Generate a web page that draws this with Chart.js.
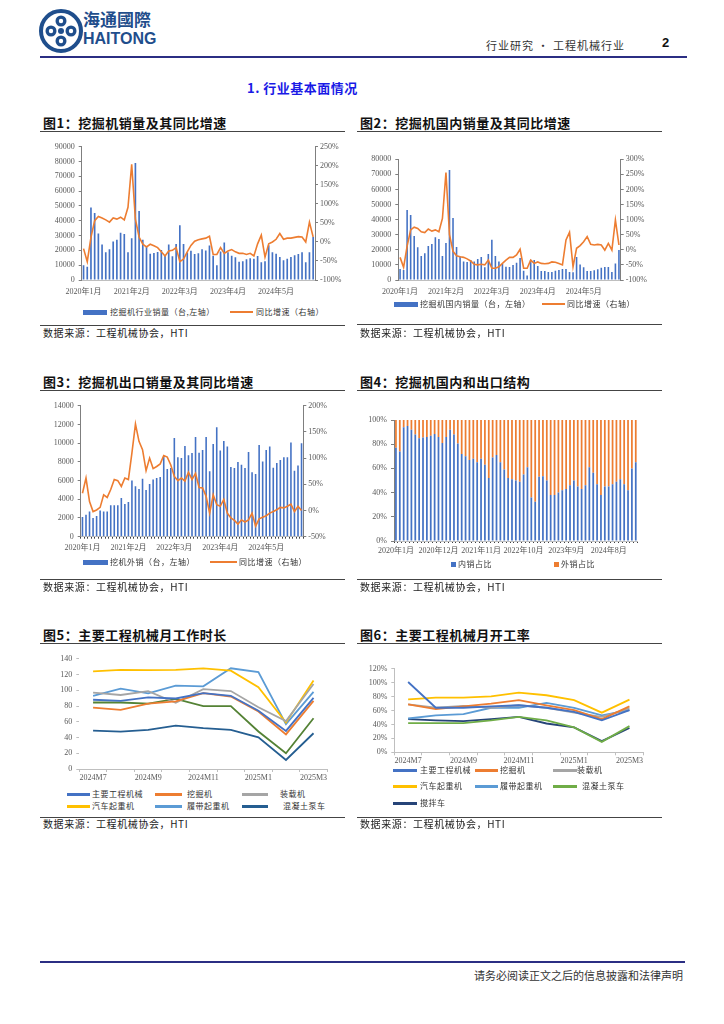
<!DOCTYPE html>
<html>
<head>
<meta charset="utf-8">
<script src="https://cdn.jsdelivr.net/npm/chart.js@4.4.1/dist/chart.umd.min.js"></script>
<style>
body { margin: 0; background: #fff; }
#page { position: relative; width: 724px; height: 1024px; overflow: hidden; background: #fff;
  font-family: "Noto Sans CJK SC", "Noto Sans", sans-serif; color: #222; }
.abs { position: absolute; white-space: nowrap; }
.ttl { font-size: 13px; font-weight: 700; line-height: 16px; color: #111; letter-spacing: 0.5px; }
.rule { position: absolute; height: 0; border-top: 1px solid #444; }
.src { font-size: 10px; line-height: 12px; color: #222; letter-spacing: 0.6px; }
.lg { font-size: 8px; line-height: 10px; color: #333; letter-spacing: 0.5px; }
.mk { position: absolute; }
canvas { position: absolute; }
</style>
</head>
<body>
<div id="page">
  <!-- header -->
  <svg class="abs" style="left:38px;top:8px" width="46" height="46" viewBox="0 0 46 46">
    <circle cx="23" cy="23" r="20" fill="none" stroke="#1F4E8C" stroke-width="4"/>
    <circle cx="23" cy="13" r="5.5" fill="#1F4E8C"/>
    <circle cx="23" cy="33" r="5.5" fill="#1F4E8C"/>
    <circle cx="13" cy="23" r="5.5" fill="#1F4E8C"/>
    <circle cx="33" cy="23" r="5.5" fill="#1F4E8C"/>
    <circle cx="23" cy="13" r="2.2" fill="#fff"/>
    <circle cx="23" cy="33" r="2.2" fill="#fff"/>
    <circle cx="13" cy="23" r="2.2" fill="#fff"/>
    <circle cx="33" cy="23" r="2.2" fill="#fff"/>
    <circle cx="23" cy="23" r="3" fill="#1F4E8C"/>
  </svg>
  <div class="abs" style="left:83px;top:8px;font-size:17px;font-weight:700;color:#1F4E8C;line-height:22px">海通國際</div>
  <div class="abs" style="left:83px;top:30px;font-size:16px;font-weight:700;color:#1F4E8C;line-height:18px;font-family:'Liberation Sans',sans-serif">HAITONG</div>
  <div class="abs" style="left:486px;top:38px;font-size:11px;color:#333;line-height:14px;letter-spacing:1px">行业研究 • 工程机械行业</div>
  <div class="abs" style="left:662px;top:35px;font-size:13px;font-weight:700;color:#111;line-height:16px;font-family:'Liberation Sans',sans-serif">2</div>
  <div class="abs" style="left:40px;top:56px;width:647px;height:2px;background:#2B2E83"></div>
  <div class="abs" style="left:247px;top:80px;font-size:13px;font-weight:700;color:#1a1ae6;line-height:16px;letter-spacing:0.5px">1. 行业基本面情况</div>

  <!-- figure 1 -->
  <div class="abs ttl" style="left:43px;top:115px">图1：挖掘机销量及其同比增速</div>
  <div class="rule" style="left:40px;top:131px;width:305px"></div>
  <canvas id="c1" width="305" height="165" style="left:40px;top:138px"></canvas>
  <div class="mk" style="left:83px;top:310px;width:24px;height:5px;background:#4472C4"></div>
  <div class="abs lg" style="left:110px;top:307px">挖掘机行业销量（台,左轴）</div>
  <div class="mk" style="left:230px;top:311px;width:23px;height:2px;background:#ED7D31"></div>
  <div class="abs lg" style="left:256px;top:307px">同比增速（右轴）</div>
  <div class="rule" style="left:40px;top:325px;width:305px"></div>
  <div class="abs src" style="left:43px;top:327px">数据来源：工程机械协会，HTI</div>

  <!-- figure 2 -->
  <div class="abs ttl" style="left:360px;top:115px">图2：挖掘机国内销量及其同比增速</div>
  <div class="rule" style="left:357px;top:131px;width:305px"></div>
  <canvas id="c2" width="307" height="153" style="left:355px;top:150px"></canvas>
  <div class="mk" style="left:394px;top:302px;width:24px;height:5px;background:#4472C4"></div>
  <div class="abs lg" style="left:420px;top:299px">挖掘机国内销量（台，左轴）</div>
  <div class="mk" style="left:542px;top:303px;width:23px;height:2px;background:#ED7D31"></div>
  <div class="abs lg" style="left:567px;top:299px">同比增速（右轴）</div>
  <div class="rule" style="left:357px;top:324px;width:305px"></div>
  <div class="abs src" style="left:360px;top:327px">数据来源：工程机械协会，HTI</div>

  <!-- figure 3 -->
  <div class="abs ttl" style="left:43px;top:374px">图3：挖掘机出口销量及其同比增速</div>
  <div class="rule" style="left:40px;top:390px;width:305px"></div>
  <canvas id="c3" width="305" height="162" style="left:40px;top:396px"></canvas>
  <div class="mk" style="left:83px;top:560px;width:25px;height:5px;background:#4472C4"></div>
  <div class="abs lg" style="left:110px;top:557px">挖机外销（台，左轴）</div>
  <div class="mk" style="left:210px;top:561px;width:27px;height:2px;background:#ED7D31"></div>
  <div class="abs lg" style="left:239px;top:557px">同比增速（右轴）</div>
  <div class="rule" style="left:40px;top:579px;width:305px"></div>
  <div class="abs src" style="left:43px;top:581px">数据来源：工程机械协会，HTI</div>

  <!-- figure 4 -->
  <div class="abs ttl" style="left:360px;top:374px">图4：挖掘机国内和出口结构</div>
  <div class="rule" style="left:357px;top:390px;width:305px"></div>
  <canvas id="c4" width="307" height="150" style="left:355px;top:410px"></canvas>
  <div class="mk" style="left:451px;top:562px;width:5px;height:5px;background:#4472C4"></div>
  <div class="abs lg" style="left:458px;top:559px">内销占比</div>
  <div class="mk" style="left:554px;top:562px;width:5px;height:5px;background:#ED7D31"></div>
  <div class="abs lg" style="left:561px;top:559px">外销占比</div>
  <div class="rule" style="left:357px;top:579px;width:305px"></div>
  <div class="abs src" style="left:360px;top:581px">数据来源：工程机械协会，HTI</div>

  <!-- figure 5 -->
  <div class="abs ttl" style="left:43px;top:627px">图5：主要工程机械月工作时长</div>
  <div class="rule" style="left:40px;top:643px;width:305px"></div>
  <canvas id="c5" width="295" height="135" style="left:40px;top:650px"></canvas>
  <div id="lg5"></div>
  <div class="rule" style="left:40px;top:817px;width:305px"></div>
  <div class="abs src" style="left:43px;top:818px">数据来源：工程机械协会，HTI</div>

  <!-- figure 6 -->
  <div class="abs ttl" style="left:360px;top:627px">图6：主要工程机械月开工率</div>
  <div class="rule" style="left:357px;top:643px;width:305px"></div>
  <canvas id="c6" width="300" height="108" style="left:355px;top:660px"></canvas>
  <div id="lg6"></div>
  <div class="rule" style="left:357px;top:817px;width:305px"></div>
  <div class="abs src" style="left:360px;top:818px">数据来源：工程机械协会，HTI</div>

  <!-- footer -->
  <div class="abs" style="left:40px;top:961px;width:645px;height:2px;background:#2B2E83"></div>
  <div class="abs" style="right:41px;top:968px;font-size:11px;color:#333;line-height:14px">请务必阅读正文之后的信息披露和法律声明</div>
</div>

<script>
// ---- data ----
const months = [];
for (let y = 2020; y <= 2025; y++) {
  for (let m = 1; m <= 12; m++) {
    if (y === 2025 && m > 3) break;
    months.push(y + '年' + m + '月');
  }
}
const ticksEvery13 = ['2020年1月', '2021年2月', '2022年3月', '2023年4月', '2024年5月'];
const ticksEvery11 = ['2020年1月', '2020年12月', '2021年11月', '2022年10月', '2023年9月', '2024年8月'];

// fig 1: total excavator sales (units) and yoy (%)
const salesTotal = [9900, 9000, 49000, 45300, 31500, 24000, 18700, 20700, 26000, 27200, 32000, 31100,
  18800, 28200, 79000, 46600, 27200, 22800, 17800, 18200, 18900, 20200, 16200, 24000,
  16000, 24300, 37000, 24300, 18500, 19800, 17500, 18000, 20700, 20000, 23300, 16400,
  10000, 19300, 25300, 18700, 16400, 15300, 12400, 12700, 14000, 14700, 14400, 16200,
  12000, 12700, 23500, 18700, 17800, 15600, 13300, 14400, 15600, 16700, 17500, 18800,
  12000, 18700, 29000];
const yoyTotal = [-17.5, -52, 12, 56, 67, 63, 58, 52, 63, 60, 65, 58,
  91, 204, 60, 13, -6, -13, -6, -10, -15, -26, -37, -24,
  -22, -15, -52, -45, -26, -9, 2, 6, 8, 10, 15, -33,
  -33, -15, -30, -24, -20, -26, -30, -30, -33, -30, -37, -5,
  18, -40, -5, 0, 7, 22, 7, 10, 10, 12, 14, 13,
  0, 52, 13];

// fig 2: domestic sales
const salesDomestic = [7300, 6600, 46400, 43100, 29200, 21700, 15900, 17700, 22500, 23900, 28300, 27200,
  15900, 24500, 72900, 41100, 21900, 15500, 12200, 11900, 13300, 12200, 13900, 15200,
  8400, 17200, 26700, 15900, 12200, 10600, 8800, 8600, 9900, 11500, 14600, 6200,
  3000, 13500, 13300, 9300, 6000, 6000, 5300, 5300, 6200, 6600, 7300, 7300,
  5300, 5100, 15200, 10200, 8400, 6000, 6000, 6400, 7100, 8200, 8600, 8600,
  5300, 11000, 19900];
const yoyDomestic = [-25, -58, 12, 66, 75, 71, 60, 57, 69, 62, 66, 60,
  104, 256, 50, -5, -20, -23, -25, -30, -37, -48, -50, -48,
  -50, -34, -61, -61, -56, -45, -34, -25, -25, -17, 2, -61,
  -61, -34, -45, -40, -45, -46, -45, -40, -41, -45, -50, 33,
  58, -56, 5, 14, 27, 44, 18, 16, 18, 16, -1, 21,
  -1, 99, 16];

// fig 3: export sales
const salesExport = [2100, 2350, 2700, 2000, 2200, 2800, 2700, 2700, 3350, 3350, 3350, 4130,
  3500, 3700, 6000, 5400, 5100, 6200, 5000, 5630, 6100, 6270, 6380, 8600,
  7230, 7340, 10550, 8500, 8400, 9700, 8700, 8940, 10650, 8980, 9260, 10650,
  7000, 9900, 11700, 9200, 10220, 9650, 7450, 7340, 7980, 7700, 7340, 9050,
  6900, 6700, 9800, 8050, 9260, 9650, 7370, 7870, 8200, 8500, 8500, 10080,
  7050, 7600, 10000];
const yoyExport = [33, 62, 17, -2, 1, 6, 30, 25, 40, 59, 57, 46,
  62, 59, 110, 165, 132, 116, 76, 100, 80, 84, 89, 105,
  102, 87, 65, 57, 62, 56, 73, 59, 71, 44, 43, 27,
  -5, 30, 11, 8, 21, -5, -14, -19, -26, -18, -22, -18,
  -5, -30, -16, -13, -10, -5, -2, 1.5, 6, 5, 8, 12,
  -2, 8, 0];

// fig 4: domestic / export share (%)
const shareDomestic = [77, 74, 94, 95, 92, 88, 85, 85.5, 86, 87, 88.5, 86,
  81, 86, 92, 88, 80.5, 72, 70, 67, 68, 65, 68, 63,
  52, 69, 71, 65, 59, 52, 51, 50, 49, 55, 61, 36,
  32.5, 53, 53.5, 50, 38, 38, 40, 42, 43, 46, 50, 45,
  43, 46, 61, 56.5, 47, 38, 45, 45, 47, 49, 51, 47,
  42, 60, 65];
const shareExport = [23, 26, 6, 5, 8, 12, 15, 14.5, 14, 13, 11.5, 14,
  19, 14, 8, 12, 19.5, 28, 30, 33, 32, 35, 32, 37,
  48, 31, 29, 35, 41, 48, 49, 50, 51, 45, 39, 64,
  67.5, 47, 46.5, 50, 62, 62, 60, 58, 57, 54, 50, 55,
  57, 54, 39, 43.5, 53, 62, 55, 55, 53, 51, 49, 53,
  58, 40, 35];

// fig 5 / fig 6: monthly working hours and utilisation
const recentMonths = ['2024M7', '2024M8', '2024M9', '2024M10', '2024M11', '2024M12', '2025M1', '2025M2', '2025M3'];
const recentTicks = ['2024M7', '2024M9', '2024M11', '2025M1', '2025M3'];

const hoursMain = [88, 86.6, 91, 89.6, 96.4, 93, 74, 48.4, 90.4];
const hoursExcavator = [78, 75, 83, 85.8, 96.4, 92, 73, 44, 86.6];
const hoursLoader = [97, 94, 99, 84, 101.5, 99, 78.5, 61, 108];
const hoursTruckCrane = [124, 126, 125.7, 126, 127.8, 125, 104, 59, 112.5];
const hoursCrawlerCrane = [93, 102, 96, 106, 105, 128, 123, 57, 98];
const hoursMixer = [84.5, 84.5, 83, 89, 80, 80, 47.6, 20, 64.5];
const hoursPump = [48.8, 47.6, 49.7, 55, 51.8, 49.7, 40.3, 11.5, 45.4];

const rateMain = [101, 64, 64, 66, 67.6, 64, 58, 46, 60.5];
const rateExcavator = [69, 62, 66, 70, 75, 67.6, 60.5, 47.6, 66];
const rateLoader = [69, 64, 66.7, 64, 67.6, 64, 57, 51, 63];
const rateTruckCrane = [76, 78.6, 78.6, 80.5, 85.7, 82, 75, 57, 75.7];
const rateCrawlerCrane = [48.6, 53, 55, 64, 64, 71, 64, 53, 60.5];
const ratePump = [42, 42, 42, 46, 51, 46, 35.7, 15, 37.6];
const rateMixer = [47.6, 46, 44.8, 47.6, 51, 41.4, 35.7, 16, 35];

// ---- helpers ----
const BLUE = '#4472C4', ORANGE = '#ED7D31';
const tickFont = { family: '"Liberation Serif", "Noto Sans CJK SC", serif', size: 8 };
const tickColor = '#595959';
Chart.defaults.animation = false;
Chart.defaults.plugins.legend.display = false;
Chart.defaults.plugins.tooltip.enabled = false;

function onlyLabels(list) {
  return function (v) {
    const l = this.getLabelForValue(v);
    return list.includes(l) ? l : '';
  };
}

function xAxis(list, height, pad, tickMarks) {
  return {
    type: 'category', offset: true,
    grid: { display: !!tickMarks, drawOnChartArea: false, drawTicks: !!tickMarks, tickLength: 2, offset: true, color: '#404040' },
    border: { display: true, color: '#bfbfbf' },
    ticks: { autoSkip: false, maxRotation: 0, minRotation: 0, font: tickFont, color: tickColor, padding: pad, callback: onlyLabels(list) },
    afterFit: s => { s.height = height; }
  };
}

function yAxis(pos, min, max, step, width, pct, stacked) {
  return {
    position: pos, min: min, max: max, stacked: !!stacked,
    grid: { drawOnChartArea: false, drawTicks: true, tickLength: 3, color: '#7f7f7f' },
    border: { display: true, color: '#7f7f7f' },
    ticks: { stepSize: step, font: tickFont, color: tickColor, padding: pos === 'left' ? 4 : 2,
      callback: v => pct ? v + '%' : v },
    afterFit: s => { s.width = width; }
  };
}

function barLine(id, labels, bars, line, cfg) {
  new Chart(document.getElementById(id), {
    type: 'bar',
    data: {
      labels: labels,
      datasets: [
        { type: 'line', data: line, yAxisID: 'y1', borderColor: ORANGE, borderWidth: 1.6,
          pointRadius: 0, tension: 0, order: 0 },
        { type: 'bar', data: bars, yAxisID: 'y', backgroundColor: BLUE,
          barPercentage: 0.9, categoryPercentage: 0.5, order: 1 }
      ]
    },
    options: {
      responsive: false,
      layout: { padding: { top: cfg.top, left: 0, right: 0, bottom: 0 } },
      scales: {
        x: xAxis(cfg.ticks, cfg.xh, cfg.xpad, cfg.marks),
        y: yAxis('left', 0, cfg.lmax, cfg.lstep, cfg.lw, false),
        y1: yAxis('right', cfg.rmin, cfg.rmax, 50, cfg.rw, true)
      }
    }
  });
}

barLine('c1', months, salesTotal, yoyTotal,
  { ticks: ticksEvery13, top: 7.7, xh: 23, xpad: 7, lmax: 90000, lstep: 10000, lw: 41.7, rmin: -100, rmax: 250, rw: 30 });
barLine('c2', months, salesDomestic, yoyDomestic,
  { ticks: ticksEvery13, top: 9.3, xh: 23, xpad: 7, lmax: 80000, lstep: 10000, lw: 43.3, rmin: -100, rmax: 300, rw: 41.3 });
barLine('c3', months, salesExport, yoyExport,
  { ticks: ticksEvery13, top: 9.7, xh: 21.3, xpad: 4, marks: true, lmax: 14000, lstep: 2000, lw: 40.7, rmin: -50, rmax: 200, rw: 41.7 });

// fig 4: 100% stacked
new Chart(document.getElementById('c4'), {
  type: 'bar',
  data: {
    labels: months,
    datasets: [
      { label: '内销占比', data: shareDomestic, backgroundColor: BLUE, barPercentage: 0.9, categoryPercentage: 0.5 },
      { label: '外销占比', data: shareExport, backgroundColor: ORANGE, barPercentage: 0.9, categoryPercentage: 0.5 }
    ]
  },
  options: {
    responsive: false,
    layout: { padding: { top: 10, left: 0, right: 24.3, bottom: 0 } },
    scales: {
      x: Object.assign(xAxis(ticksEvery11, 19, 3, true), { stacked: true }),
      y: yAxis('left', 0, 100, 10, 39, true, true)
    }
  }
});

function lineChart(id, sets, cfg) {
  new Chart(document.getElementById(id), {
    type: 'line',
    data: {
      labels: recentMonths,
      datasets: sets.map(s => ({ label: s[0], data: s[1], borderColor: s[2], borderWidth: 1.8,
        pointRadius: 0, tension: 0, fill: false }))
    },
    options: {
      responsive: false,
      layout: { padding: { top: cfg.top, left: 0, right: cfg.right, bottom: 0 } },
      scales: {
        x: {
          type: 'category', offset: true,
          grid: { display: true, drawOnChartArea: false, drawTicks: true, tickLength: 3, offset: true, color: '#bfbfbf' },
          border: { display: true, color: '#bfbfbf' },
          ticks: { autoSkip: false, maxRotation: 0, font: tickFont, color: tickColor, padding: 1, callback: onlyLabels(recentTicks) },
          afterFit: s => { s.height = cfg.xh; }
        },
        y: {
          min: 0, max: cfg.max,
          grid: { drawOnChartArea: false, drawTicks: true, tickLength: 3, color: '#bfbfbf' },
          border: { display: cfg.yline, color: '#bfbfbf' },
          ticks: { stepSize: 20, font: tickFont, color: tickColor, padding: 4, callback: v => v + cfg.unit },
          afterFit: s => { s.width = cfg.lw; }
        }
      }
    }
  });
}

const set5 = [
  ['主要工程机械', hoursMain, '#4472C4'],
  ['挖掘机', hoursExcavator, '#ED7D31'],
  ['装载机', hoursLoader, '#A5A5A5'],
  ['汽车起重机', hoursTruckCrane, '#FFC000'],
  ['履带起重机', hoursCrawlerCrane, '#5B9BD5'],
  ['搅拌车', hoursMixer, '#548235'],
  ['混凝土泵车', hoursPump, '#255E91']
];
const set6 = [
  ['主要工程机械', rateMain, '#4472C4'],
  ['挖掘机', rateExcavator, '#ED7D31'],
  ['装载机', rateLoader, '#A5A5A5'],
  ['汽车起重机', rateTruckCrane, '#FFC000'],
  ['履带起重机', rateCrawlerCrane, '#5B9BD5'],
  ['混凝土泵车', ratePump, '#70AD47'],
  ['搅拌车', rateMixer, '#264478']
];
lineChart('c5', set5, { top: 8.3, right: 7.7, xh: 16, max: 140, lw: 39.3, unit: '', yline: false });
lineChart('c6', set6, { top: 8.3, right: 11.7, xh: 15.7, max: 120, lw: 39.3, unit: '%', yline: true });

// html legends for fig 5 / 6 (3 columns)
function legend(boxId, items, cols, rows) {
  const box = document.getElementById(boxId);
  items.forEach((it, i) => {
    const c = cols[i % 3], y = rows[Math.floor(i / 3)];
    const mk = document.createElement('div');
    mk.className = 'mk';
    mk.style.cssText = `left:${c[0]}px;top:${y - 1}px;width:${c[1]}px;height:2.5px;background:${it[2]}`;
    box.appendChild(mk);
    const tx = document.createElement('div');
    tx.className = 'abs lg';
    tx.style.cssText = `left:${it[3] || c[2]}px;top:${y - 5}px`;
    tx.textContent = it[0];
    box.appendChild(tx);
  });
}
legend('lg5', [set5[0], set5[1], set5[2], set5[3], set5[4], set5[6].concat([283])],
  [[67, 23, 92], [155, 27, 187], [242, 26, 280]], [794, 806]);
legend('lg6', [set6[0], set6[1], set6[2], set6[3], set6[4], set6[5].concat([582]), set6[6]],
  [[393, 24, 420], [475, 23, 500], [553, 24, 577]], [770, 786, 803]);
</script>
</body>
</html>
